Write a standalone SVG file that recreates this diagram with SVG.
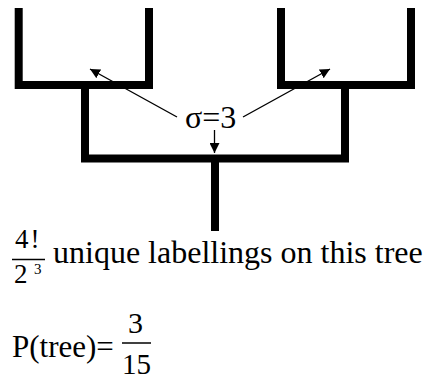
<svg xmlns="http://www.w3.org/2000/svg" width="429" height="379" viewBox="0 0 429 379">
<style>
.br{fill:none;stroke:#000;stroke-width:8;stroke-linejoin:miter;stroke-linecap:butt}
.ar{fill:none;stroke:#000;stroke-width:1.3}
.fl{stroke:#000;stroke-width:1.5}
</style>
<defs>
<marker id="ah" viewBox="0 0 10 10" refX="10" refY="5" markerWidth="10" markerHeight="10" markerUnits="userSpaceOnUse" orient="auto">
<path d="M0,0 L10,5 L0,10 z" fill="#000"/>
</marker>
</defs>
<g id="tree">
<path class="br" d="M18.7,8 V85 H149 V8"/>
<path class="br" d="M281,8 V85 H411 V8"/>
<path class="br" d="M85,85 V158.5 H345 V85"/>
<path class="br" d="M215,158.5 V231"/>
</g>
<g id="connectors">
<line class="ar" x1="177" y1="117" x2="90" y2="69" marker-end="url(#ah)"/>
<line class="ar" x1="243" y1="117" x2="330" y2="69" marker-end="url(#ah)"/>
<line class="ar" x1="214.5" y1="130" x2="214.5" y2="153" marker-end="url(#ah)"/>
</g>
<g font-family="'Liberation Serif', 'Times New Roman', serif" fill="#000">
<g id="sigma">
<text x="185" y="128" font-size="32">σ=3</text>
</g>
<g id="labellings">
<text x="15" y="248" font-size="27" letter-spacing="2">4!</text>
<line class="fl" x1="12" y1="259.5" x2="45" y2="259.5"/>
<text x="14" y="283" font-size="27">2</text>
<text x="34" y="274" font-size="15">3</text>
<text x="53" y="263" font-size="32">unique labellings on this tree</text>
</g>
<g id="prob">
<text x="12" y="357" font-size="31">P(tree)=</text>
<text x="128" y="333" font-size="30">3</text>
<line class="fl" x1="122" y1="343" x2="151" y2="343"/>
<text x="122" y="374" font-size="29">15</text>
</g>
</g>
</svg>
